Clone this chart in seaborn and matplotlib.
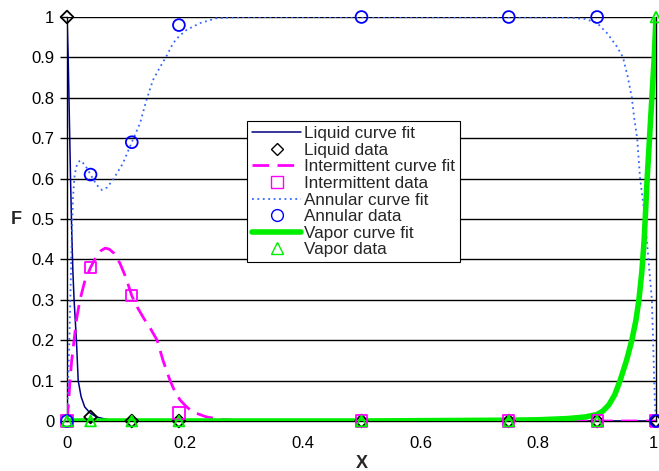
import matplotlib
matplotlib.use("Agg")
import matplotlib.pyplot as plt
import matplotlib.transforms as mtransforms
import seaborn as sns
from matplotlib.lines import Line2D

# data points
x_data = [0.0, 0.04, 0.11, 0.19, 0.5, 0.75, 0.9, 1.0]
liquid_data = [1.0, 0.01, 0.0, 0.0, 0.0, 0.0, 0.0, 0.0]
intermittent_data = [0.0, 0.38, 0.31, 0.02, 0.0, 0.0, 0.0, 0.0]
annular_data = [0.0, 0.61, 0.69, 0.98, 1.0, 1.0, 1.0, 0.0]
vapor_data = [0.0, 0.0, 0.0, 0.0, 0.0, 0.0, 0.0, 1.0]

# curve fits
liquid_x = [0.0, 0.002, 0.004, 0.006, 0.008, 0.01, 0.012, 0.016, 0.019, 0.024, 0.03,
            0.039, 0.05, 0.07, 0.1, 1.0]
liquid_y = [1.0, 0.9, 0.75, 0.6, 0.47, 0.37, 0.3, 0.2, 0.1, 0.06, 0.035,
            0.02, 0.01, 0.003, 0.0, 0.0]

inter_x = [0.0, 0.003, 0.005, 0.008, 0.012, 0.016, 0.022, 0.03, 0.04, 0.05, 0.058, 0.065,
           0.072, 0.08, 0.09, 0.1, 0.11, 0.12, 0.13, 0.142, 0.153, 0.163, 0.175, 0.184,
           0.192, 0.203, 0.214, 0.237, 0.26, 0.3, 0.6, 1.0]
inter_y = [0.0, 0.05, 0.1, 0.15, 0.2, 0.25, 0.3, 0.345, 0.38, 0.408, 0.422, 0.428,
           0.425, 0.415, 0.39, 0.355, 0.31, 0.28, 0.255, 0.228, 0.2, 0.15, 0.1, 0.07,
           0.052, 0.035, 0.022, 0.01, 0.004, 0.0, 0.0, 0.0]

ann_x = [0.0, 0.004, 0.008, 0.01, 0.013, 0.017, 0.022, 0.03, 0.04, 0.05, 0.059, 0.068,
         0.078, 0.095, 0.11, 0.124, 0.135, 0.146, 0.158, 0.17, 0.18, 0.19, 0.203, 0.226,
         0.254, 0.3, 0.85, 0.88, 0.9, 0.917, 0.934, 0.944, 0.952, 0.959, 0.963, 0.968,
         0.973, 0.98, 0.986, 0.993, 0.996, 0.998, 1.0]
ann_y = [0.0, 0.2, 0.45, 0.55, 0.61, 0.635, 0.645, 0.635, 0.61, 0.585, 0.572, 0.578,
         0.597, 0.638, 0.69, 0.737, 0.795, 0.844, 0.876, 0.906, 0.935, 0.952, 0.968, 0.985,
         0.997, 1.0, 0.999, 0.995, 0.985, 0.96, 0.926, 0.9, 0.852, 0.8, 0.75, 0.7,
         0.6, 0.52, 0.42, 0.3, 0.15, 0.05, 0.0]

vap_x = [0.0, 0.5, 0.75, 0.8, 0.85, 0.88, 0.9, 0.91, 0.92, 0.93, 0.939, 0.95, 0.959,
         0.966, 0.971, 0.976, 0.98, 0.985, 0.989, 0.993, 0.997, 1.0]
vap_y = [0.0, 0.0, 0.002, 0.003, 0.006, 0.01, 0.016, 0.025, 0.04, 0.065, 0.1, 0.15, 0.2,
         0.25, 0.3, 0.37, 0.45, 0.6, 0.7, 0.8, 0.9, 1.0]

x_ticks = [0, 0.2, 0.4, 0.6, 0.8, 1]
y_ticks = [0, 0.1, 0.2, 0.3, 0.4, 0.5, 0.6, 0.7, 0.8, 0.9, 1]

sns.set_style("white")
plt.rcParams['font.family'] = ['Liberation Sans', 'DejaVu Sans']

fig = plt.figure(figsize=(6.59, 4.71), dpi=100)
ax = fig.add_axes([67/659, 50/471, 589/659, 404/471])

for y in y_ticks:
    ax.axhline(y, color='black', lw=1.0, zorder=0.5)

c_liq = '#000080'
c_int = '#FF00FF'
c_ann = '#3366FF'
c_annm = '#0000FF'
c_vap = '#00EE00'

sns.lineplot(x=liquid_x, y=liquid_y, ax=ax, color=c_liq, lw=1.1, sort=False, estimator=None, zorder=3)
sns.lineplot(x=inter_x, y=inter_y, ax=ax, color=c_int, lw=2.0, sort=False, estimator=None,
             zorder=3, linestyle=(0, (6, 3)))
sns.lineplot(x=ann_x, y=ann_y, ax=ax, color=c_ann, lw=1.3, sort=False, estimator=None,
             zorder=3, linestyle=(0, (1, 2)))
sns.lineplot(x=vap_x, y=vap_y, ax=ax, color=c_vap, lw=4.0, sort=False, estimator=None, zorder=4)

kw = dict(ax=ax, facecolor='none', linewidth=1.3, clip_on=False, zorder=5)
sns.scatterplot(x=x_data, y=liquid_data, marker='D', edgecolor='black', s=42, **kw)
sns.scatterplot(x=x_data, y=intermittent_data, marker='s', edgecolor=c_int, s=65, **kw)
sns.scatterplot(x=x_data, y=annular_data, marker='o', edgecolor=c_annm, s=72, **kw)
sns.scatterplot(x=x_data, y=vapor_data, marker='^', edgecolor=c_vap, s=60, **kw)

ax.set_xlim(0, 1)
ax.set_ylim(0, 1)
ax.set_xticks(x_ticks)
ax.set_xticklabels([f"{t:g}" for t in x_ticks])
ax.set_yticks(y_ticks)
ax.set_yticklabels([f"{t:g}" for t in y_ticks])
ax.tick_params(axis='both', labelsize=12, colors='black', length=0)
ax.tick_params(axis='x', pad=11)
ax.tick_params(axis='y', length=5, direction='out', width=1, left=True, pad=4)
ax.set_xlabel("X", fontsize=13, fontweight='bold', labelpad=3)
ax.set_ylabel("F", fontsize=13, fontweight='bold', rotation=0, labelpad=11, va='center')
for s in ax.spines.values():
    s.set_color('black')
    s.set_linewidth(1.0)
ax.spines['top'].set_visible(False)

# nudge the last x tick label so it stays inside the figure
last = ax.get_xticklabels()[-1]
last.set_transform(last.get_transform() +
                   mtransforms.ScaledTranslation(-3/100, 0, fig.dpi_scale_trans))

handles = [
    Line2D([], [], color=c_liq, lw=1.1),
    Line2D([], [], marker='D', color='black', markerfacecolor='none', ls='none', markersize=6.5),
    Line2D([], [], color=c_int, lw=2.0, linestyle=(0, (6, 3))),
    Line2D([], [], marker='s', color=c_int, markerfacecolor='none', ls='none', markersize=8),
    Line2D([], [], color=c_ann, lw=1.3, linestyle=(0, (1, 2))),
    Line2D([], [], marker='o', color=c_annm, markerfacecolor='none', ls='none', markersize=8.5),
    Line2D([], [], color=c_vap, lw=4.0),
    Line2D([], [], marker='^', color=c_vap, markerfacecolor='none', ls='none', markersize=8),
]
labels = ["Liquid curve fit", "Liquid data", "Intermittent curve fit", "Intermittent data",
          "Annular curve fit", "Annular data", "Vapor curve fit", "Vapor data"]
leg = ax.legend(handles, labels, loc='upper left', bbox_to_anchor=(0.305, 0.742),
                fontsize=12.3, frameon=True, fancybox=False, framealpha=1,
                edgecolor='black', labelspacing=0.09, handlelength=2.9,
                handletextpad=0.15, borderpad=0.3, borderaxespad=0)
leg.get_frame().set_linewidth(0.8)
leg.set_zorder(10)

fig.savefig("out.png", dpi=100)
